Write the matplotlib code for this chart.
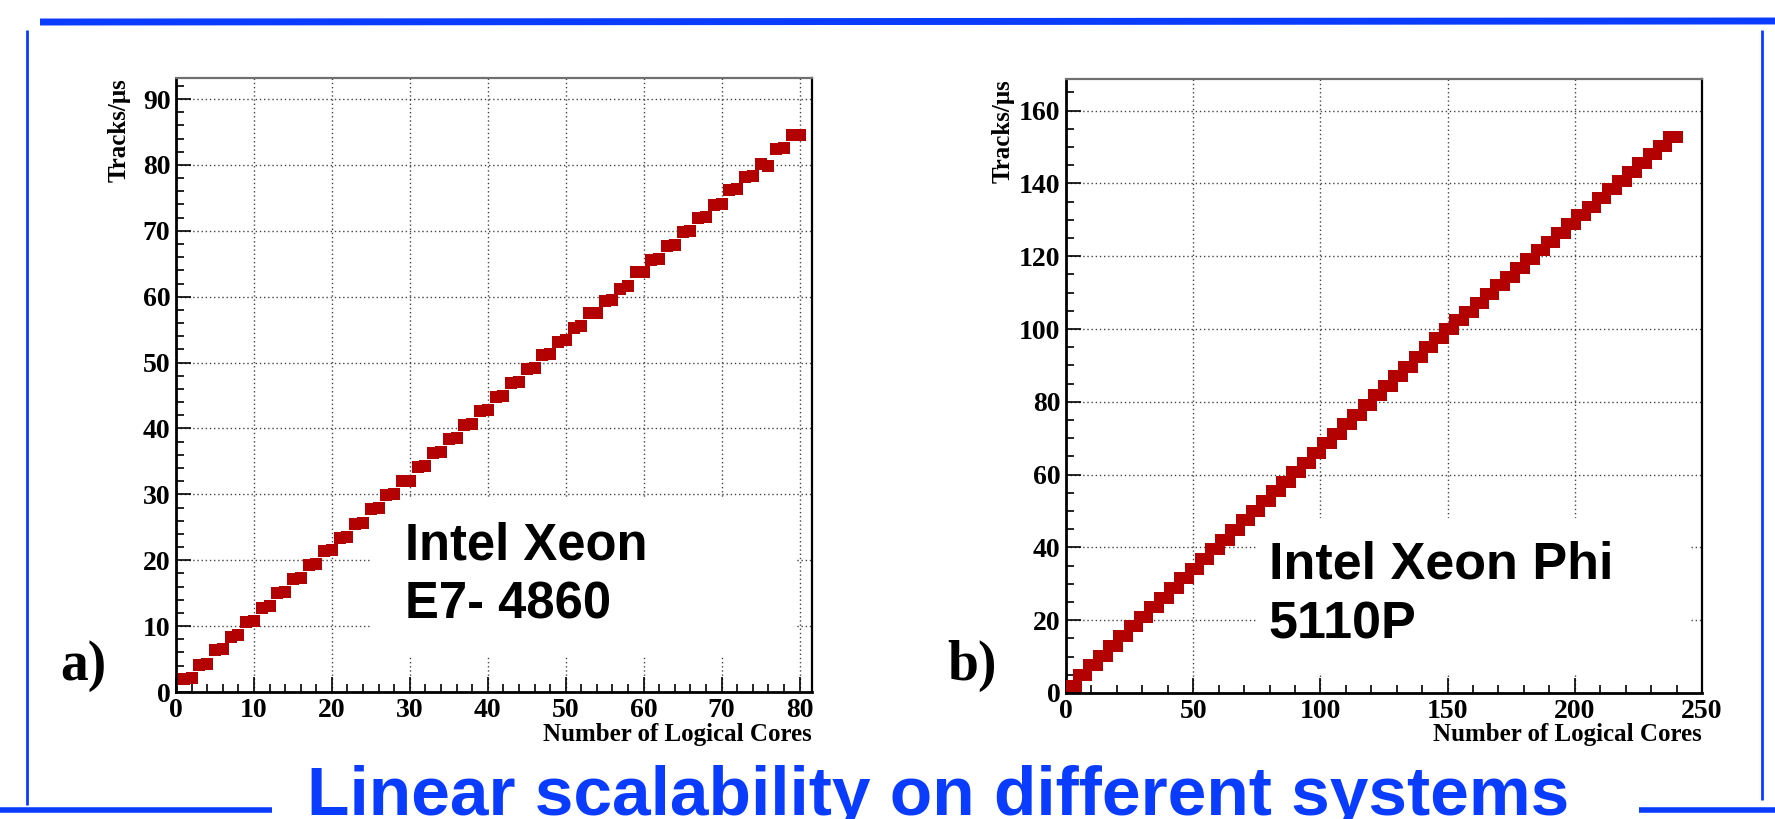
import numpy as np
import matplotlib
matplotlib.use("Agg")
import matplotlib.pyplot as plt
from matplotlib.lines import Line2D
from matplotlib.patches import Rectangle
from matplotlib.ticker import MultipleLocator

# ---- data ----
# a) Intel Xeon E7-4860: throughput for 1..80 logical cores
xeon_cores = list(range(1, 81))
xeon_rate = [1.9, 2.1, 4.1, 4.3, 6.3, 6.5, 8.4, 8.6, 10.6, 10.8,
             12.8, 13.0, 15.0, 15.2, 17.1, 17.3, 19.3, 19.4, 21.4, 21.6,
             23.4, 23.6, 25.5, 25.7, 27.8, 27.9, 29.9, 30.0, 32.0, 32.1,
             34.1, 34.3, 36.3, 36.4, 38.4, 38.6, 40.5, 40.7, 42.6, 42.8,
             44.8, 45.0, 46.9, 47.1, 49.0, 49.2, 51.1, 51.3, 53.2, 53.4,
             55.3, 55.5, 57.5, 57.6, 59.3, 59.5, 61.2, 61.6, 63.7, 63.8,
             65.6, 65.8, 67.7, 67.9, 69.8, 70.0, 71.9, 72.1, 73.9, 74.1,
             76.2, 76.3, 78.2, 78.3, 80.1, 79.9, 82.4, 82.5, 84.6, 84.6]

# b) Intel Xeon Phi 5110P: 1..240 logical cores, steps of 4 threads per core
phi_cores = list(range(1, 241))
phi_core_rate = [2.0, 4.9, 7.6, 10.3, 12.9, 15.6, 18.3, 20.9, 23.6, 26.2,
                 28.9, 31.5, 34.2, 36.8, 39.5, 42.1, 44.8, 47.4, 50.1, 52.7,
                 55.4, 58.0, 60.7, 63.3, 65.9, 68.6, 71.2, 73.9, 76.5, 79.2,
                 81.8, 84.4, 87.1, 89.7, 92.4, 95.0, 97.6, 100.0, 102.4, 104.8,
                 107.2, 109.6, 112.0, 114.4, 116.8, 119.2, 121.6, 124.0, 126.4, 128.8,
                 131.2, 133.6, 136.0, 138.4, 140.8, 143.2, 145.6, 148.0, 150.4, 152.8]
phi_rate = np.repeat(phi_core_rate, 4)

RED = "#b30000"
BLUE = "#0a3cff"
SERIF = "Liberation Serif"
SANS = "Liberation Sans"

W, H = 1775, 819
fig = plt.figure(figsize=(W / 100, H / 100), dpi=100)
fig.patch.set_facecolor("white")


def style_axes(ax, xmaj, xmin, ymaj, ymin):
    ax.xaxis.set_major_locator(MultipleLocator(xmaj))
    ax.xaxis.set_minor_locator(MultipleLocator(xmin))
    ax.yaxis.set_major_locator(MultipleLocator(ymaj))
    ax.yaxis.set_minor_locator(MultipleLocator(ymin))
    ax.grid(True, which="major", color="#444444", linestyle=(0, (1, 2)), linewidth=1.0)
    ax.set_axisbelow(True)
    ax.tick_params(which="both", direction="in", top=False, right=False, width=1.2, color="black")
    ax.tick_params(which="major", length=11, pad=4)
    ax.tick_params(which="minor", length=6)
    for lab in ax.get_xticklabels() + ax.get_yticklabels():
        lab.set_fontfamily(SERIF)
        lab.set_fontweight("bold")
        lab.set_fontsize(20)
    ax.tick_params(axis="x", pad=4)
    ax.spines["left"].set_linewidth(2.0)
    ax.spines["bottom"].set_linewidth(2.0)
    ax.spines["right"].set_linewidth(1.6)
    ax.spines["top"].set_linewidth(1.6)
    ax.spines["top"].set_color("#707070")


def label_lines(ax, x, lines, baselines, size):
    for line, yb in zip(lines, baselines):
        ax.text(x, yb, line, transform=ax.transAxes, ha="left", va="baseline",
                fontsize=size, fontweight="bold", family=SANS, zorder=4)


# ---- panel a ----
ax1 = fig.add_axes([176 / W, 1 - 692 / H, (812 - 176) / W, (692 - 78) / H])
ax1.set_xlim(0, 81.6)
ax1.set_ylim(0, 93.2)
style_axes(ax1, 10, 2, 10, 2)
ax1.add_patch(Rectangle((0.305, 0.06), 0.67, 0.255, transform=ax1.transAxes,
                        facecolor="white", edgecolor="none", zorder=1))
ax1.plot(xeon_cores, xeon_rate, linestyle="none", marker="s", markersize=8.2,
         markeredgewidth=0, color=RED, zorder=3)
label_lines(ax1, 0.36, ["Intel Xeon", "E7- 4860"], [0.216, 0.120], 36.5)

# ---- panel b ----
ax2 = fig.add_axes([1066 / W, 1 - 693 / H, (1702 - 1066) / W, (693 - 79) / H])
ax2.set_xlim(0, 250)
ax2.set_ylim(0, 168.7)
style_axes(ax2, 50, 10, 20, 5)
ax2.add_patch(Rectangle((0.30, 0.03), 0.68, 0.255, transform=ax2.transAxes,
                        facecolor="white", edgecolor="none", zorder=1))
ax2.plot(phi_cores, phi_rate, linestyle="none", marker="s", markersize=8.2,
         markeredgewidth=0, color=RED, zorder=3)
label_lines(ax2, 0.319, ["Intel Xeon Phi", "5110P"], [0.186, 0.089], 37.5)

# axis titles, ROOT style (flush with the axis ends)
for ax, ylab_x in ((ax1, 119), (ax2, 1003)):
    pos = ax.get_position()
    fig.text(ylab_x / W, pos.y1, "Tracks/\u03bcs", rotation=90, ha="center", va="top",
             fontsize=18, fontweight="bold", family=SERIF)
    fig.text(pos.x1, 1 - 735 / H, "Number of Logical Cores", ha="right", va="center",
             fontsize=18, fontweight="bold", family=SERIF)

fig.text(60 / W, 1 - 666 / H, "a)", ha="left", va="center", fontsize=40,
         fontweight="bold", family=SERIF)
fig.text(947 / W, 1 - 666 / H, "b)", ha="left", va="center", fontsize=40,
         fontweight="bold", family=SERIF)

# ---- slide decoration ----
deco = [
    ([40 / W, 1.0], [1 - 22 / H, 1 - 21 / H], 5),
    ([27 / W, 27 / W], [1 - 30 / H, 1 - 805 / H], 2),
    ([1762 / W, 1762 / W], [1 - 30 / H, 1 - 800 / H], 2),
    ([0.0, 272 / W], [1 - 810 / H, 1 - 810 / H], 4),
    ([1639 / W, 1.0], [1 - 810 / H, 1 - 810 / H], 4),
]
for xs, ys, lw in deco:
    fig.add_artist(Line2D(xs, ys, color=BLUE, linewidth=lw, solid_capstyle="butt"))

fig.text(938 / W, 1 - 815 / H, "Linear scalability on different systems", ha="center",
         va="baseline", fontsize=50, fontweight="bold", family=SANS, color=BLUE)

fig.savefig("out.png", dpi=100, facecolor="white")
